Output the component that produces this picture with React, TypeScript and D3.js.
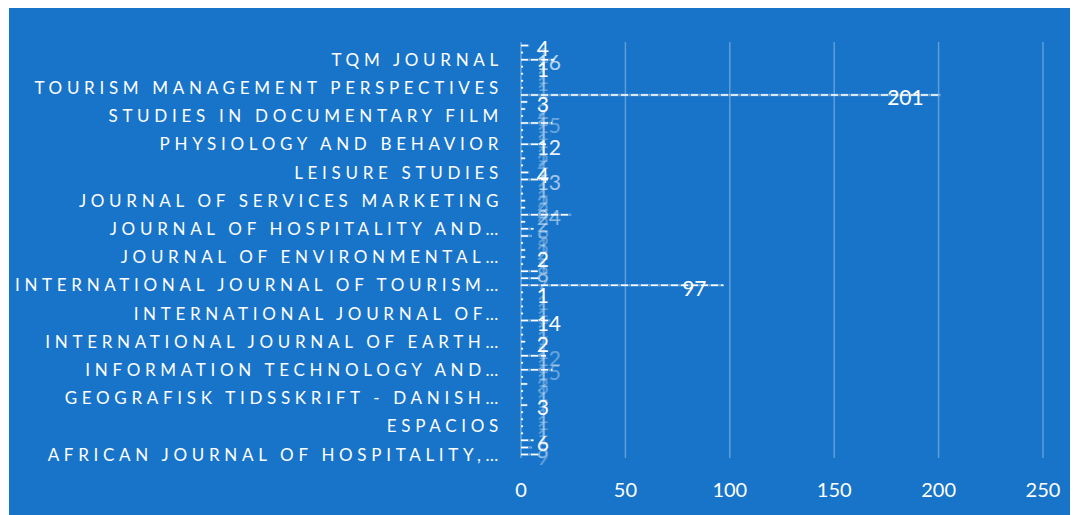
import React, { useEffect, useRef } from "react";
import * as d3 from "d3";

// journals listed bottom -> top (Excel order)
const journals = [
  "AFRICAN JOURNAL OF HOSPITALITY, TOURISM AND LEISURE",
  "ANATOLIA",
  "ANNALS OF TOURISM RESEARCH",
  "CURRENT ISSUES IN TOURISM",
  "ESPACIOS",
  "EUROPEAN JOURNAL OF TOURISM RESEARCH",
  "EVENT MANAGEMENT",
  "GEOFORUM",
  "GEOGRAFISK TIDSSKRIFT - DANISH JOURNAL OF GEOGRAPHY",
  "GEOHERITAGE",
  "HOSPITALITY AND SOCIETY",
  "INFORMATION SYSTEMS FRONTIERS",
  "INFORMATION TECHNOLOGY AND TOURISM",
  "INTERNATIONAL JOURNAL OF CONTEMPORARY HOSPITALITY MANAGEMENT",
  "INTERNATIONAL JOURNAL OF CULTURE, TOURISM AND HOSPITALITY RESEARCH",
  "INTERNATIONAL JOURNAL OF DIGITAL CULTURE AND ELECTRONIC TOURISM",
  "INTERNATIONAL JOURNAL OF EARTH SCIENCES",
  "INTERNATIONAL JOURNAL OF ENVIRONMENTAL RESEARCH AND PUBLIC HEALTH",
  "INTERNATIONAL JOURNAL OF HOSPITALITY AND TOURISM ADMINISTRATION",
  "INTERNATIONAL JOURNAL OF HOSPITALITY MANAGEMENT",
  "INTERNATIONAL JOURNAL OF SUSTAINABLE DEVELOPMENT AND PLANNING",
  "INTERNATIONAL JOURNAL OF TOURISM ANTHROPOLOGY",
  "INTERNATIONAL JOURNAL OF TOURISM CITIES",
  "INTERNATIONAL JOURNAL OF TOURISM POLICY",
  "INTERNATIONAL JOURNAL OF TOURISM RESEARCH",
  "JOURNAL OF CLEANER PRODUCTION",
  "JOURNAL OF DESTINATION MARKETING AND MANAGEMENT",
  "JOURNAL OF ECOTOURISM",
  "JOURNAL OF ENVIRONMENTAL MANAGEMENT",
  "JOURNAL OF GLOBAL SCHOLARS OF MARKETING SCIENCE",
  "JOURNAL OF HERITAGE TOURISM",
  "JOURNAL OF HOSPITALITY AND LEISURE MARKETING",
  "JOURNAL OF HOSPITALITY AND TOURISM INSIGHTS",
  "JOURNAL OF HOSPITALITY AND TOURISM MANAGEMENT",
  "JOURNAL OF HOSPITALITY AND TOURISM TECHNOLOGY",
  "JOURNAL OF RETAILING AND CONSUMER SERVICES",
  "JOURNAL OF SERVICES MARKETING",
  "JOURNAL OF SUSTAINABLE TOURISM",
  "JOURNAL OF TOURISM FUTURES",
  "JOURNAL OF TRAVEL RESEARCH",
  "LEISURE STUDIES",
  "MARINE POLICY",
  "MUSEUM MANAGEMENT AND CURATORSHIP",
  "PERSONAL AND UBIQUITOUS COMPUTING",
  "PHYSIOLOGY AND BEHAVIOR",
  "SCANDINAVIAN JOURNAL OF HOSPITALITY AND TOURISM",
  "SERVICE INDUSTRIES JOURNAL",
  "SPORT IN SOCIETY",
  "STUDIES IN DOCUMENTARY FILM",
  "SUSTAINABILITY",
  "TOURISM ECONOMICS",
  "TOURISM MANAGEMENT",
  "TOURISM MANAGEMENT PERSPECTIVES",
  "TOURISM PLANNING AND DEVELOPMENT",
  "TOURISM RECREATION RESEARCH",
  "TOURISM REVIEW",
  "TQM JOURNAL",
  "TRAVEL BEHAVIOUR AND SOCIETY",
  "WORLDWIDE HOSPITALITY AND TOURISM THEMES",
];

const citations = [
  9, 5, 6, 1, 1, 1, 1, 3, 1, 1, 3, 1, 15, 1, 12, 1, 2, 1, 1, 14,
  1, 1, 1, 1, 97, 9, 8, 1, 2, 2, 1, 5, 6, 2, 24, 2, 2, 1, 1, 13,
  4, 1, 2, 1, 12, 1, 1, 15, 1, 2, 3, 201, 1, 1, 1, 1, 16, 1, 4,
];

// how strongly each data label shows through the pile-up
const labelOpacity = [
  0.3, 0.3, 0.95, 0.3, 0.3, 0.3, 0.3, 1, 0.3, 0.3, 0.3, 0.3, 0.35, 0.3, 0.35, 0.3, 1, 0.3, 0.3, 1,
  0.3, 0.3, 0.3, 1, 1, 0.35, 0.35, 0.3, 1, 0.3, 0.3, 0.3, 0.3, 0.3, 0.5, 0.3, 0.35, 0.3, 0.3, 0.6,
  1, 0.3, 0.3, 0.3, 0.9, 0.35, 0.3, 0.35, 0.3, 0.35, 1, 1, 0.3, 0.3, 0.3, 1, 0.7, 0.3, 1,
];

const xTicks = [0, 50, 100, 150, 200, 250];

const W = 1070;
const H = 507;

export default function App() {
  const svgRef = useRef(null);

  useEffect(() => {
    const svg = d3.select(svgRef.current);
    svg.selectAll("*").remove();

    const left = 513;
    const right = 1035;
    const top = 34;
    const bottom = 450;

    svg
      .append("rect")
      .attr("x", 1)
      .attr("y", 0)
      .attr("width", W - 1)
      .attr("height", H)
      .attr("fill", "#1874c9");

    const x = d3.scaleLinear().domain([0, 250]).range([left, right]);
    const y = d3
      .scaleBand()
      .domain(journals.map((d, i) => String(i)))
      .range([bottom, top]);

    // gridlines
    svg
      .selectAll(".grid")
      .data(xTicks.slice(1))
      .enter()
      .append("line")
      .attr("x1", (d) => x(d))
      .attr("x2", (d) => x(d))
      .attr("y1", top)
      .attr("y2", bottom)
      .attr("stroke", "rgba(255,255,255,0.3)")
      .attr("stroke-width", 1.5);

    // category axis line
    svg
      .append("line")
      .attr("x1", x(0))
      .attr("x2", x(0))
      .attr("y1", top)
      .attr("y2", bottom)
      .attr("stroke", "rgba(255,255,255,0.55)")
      .attr("stroke-width", 1);

    // x tick labels
    svg
      .selectAll(".xt")
      .data(xTicks)
      .enter()
      .append("text")
      .attr("x", (d) => x(d))
      .attr("y", 489)
      .attr("text-anchor", "middle")
      .style("font-family", "Lato")
      .style("font-size", "20px")
      .attr("fill", "white")
      .text((d) => d);

    // bars: thin dashed outlines
    const bars = svg.append("g");
    citations.forEach((v, i) => {
      const cy = y(String(i)) + y.bandwidth() / 2;
      bars
        .append("line")
        .attr("x1", x(0))
        .attr("x2", x(v))
        .attr("y1", cy)
        .attr("y2", cy)
        .attr("stroke", "rgba(255,255,255,0.3)")
        .attr("stroke-width", 2.5);
      bars
        .append("line")
        .attr("x1", x(0))
        .attr("x2", x(v))
        .attr("y1", cy)
        .attr("y2", cy)
        .attr("stroke", "white")
        .attr("stroke-width", 1.5)
        .attr("stroke-dasharray", "7,3");
    });

    // data labels
    citations.forEach((v, i) => {
      const cy = y(String(i)) + y.bandwidth() / 2;
      const len = String(v).length;
      const xe = Math.max(x(v) - 17, 529 + len * 12);
      svg
        .append("text")
        .attr("x", xe)
        .attr("y", cy + 3)
        .attr("dy", "0.35em")
        .attr("text-anchor", "end")
        .style("font-family", "Lato")
        .style("font-size", "21px")
        .attr("fill", "white")
        .attr("opacity", labelOpacity[i])
        .text(v);
    });

    // category labels, every 4th, truncated by word like Excel
    const maxW = 497;
    journals.forEach((name, i) => {
      if (i % 4 !== 0) return;
      const cy = y(String(i)) + y.bandwidth() / 2;
      const t = svg
        .append("text")
        .attr("x", 495)
        .attr("y", cy)
        .attr("dy", "0.36em")
        .attr("text-anchor", "end")
        .style("font-family", "Lato")
        .style("font-size", "17px")
        .style("letter-spacing", "4.7px")
        .attr("fill", "white")
        .text(name);
      const words = name.split(" ");
      let n = words.length;
      while (n > 1 && (t.node() as SVGTextElement).getComputedTextLength() > maxW) {
        n -= 1;
        t.text(words.slice(0, n).join(" ") + "…");
      }
    });

    return () => {
      svg.selectAll("*").remove();
    };
  }, []);

  return <svg ref={svgRef} width={W} height={H} style={{ display: "block" }} />;
}
